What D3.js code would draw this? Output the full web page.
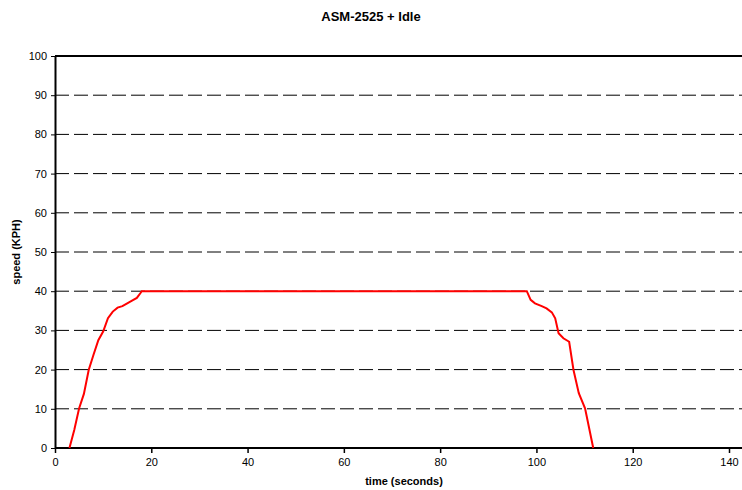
<!DOCTYPE html>
<html>
<head>
<meta charset="utf-8">
<script src="https://cdn.jsdelivr.net/npm/d3@7"></script>
<style>
  body { margin: 0; background: #fff; }
  svg { font-family: "Liberation Sans", Arial, sans-serif; }
</style>
</head>
<body>
<div id="chart"></div>
<script>
const title = 'ASM-2525 + Idle';
const timeValues = [3, 4, 5, 6, 7, 8, 9, 10, 11, 12, 13, 14, 15, 16, 17, 17.8, 18,
  98, 98.8, 99.7, 101.1, 102.1, 103.2, 103.9, 104.6, 105.6, 106.8, 107.7, 108.8, 110.1, 111.8];
const speedValues = [0, 4.6, 10.1, 13.8, 19.9, 23.8, 27.5, 29.7, 33.1, 34.8, 35.8, 36.2, 36.9, 37.6, 38.3, 39.6, 40,
  40, 37.8, 36.9, 36.2, 35.6, 34.6, 33.1, 29.3, 28, 27.1, 19.9, 14, 10.1, 0];
const xTicks = [0, 20, 40, 60, 80, 100, 120, 140];
const yTicks = [0, 10, 20, 30, 40, 50, 60, 70, 80, 90, 100];

const data = timeValues.map((t, i) => ({ t, v: speedValues[i] }));

const W = 742, H = 490;
const margin = { top: 56, right: 0, bottom: 42, left: 55 };

const svg = d3.select('#chart').append('svg')
  .attr('width', W)
  .attr('height', H);

const x = d3.scaleLinear().domain([0, 140]).range([margin.left, 729]);
const y = d3.scaleLinear().domain([0, 100]).range([H - margin.bottom, margin.top]);

// grid
svg.append('g')
  .selectAll('line')
  .data(yTicks.filter(d => d > 0))
  .join('line')
  .attr('x1', margin.left)
  .attr('x2', W)
  .attr('y1', d => y(d))
  .attr('y2', d => y(d))
  .attr('stroke', '#000')
  .attr('stroke-width', d => d === 100 ? 2 : 1)
  .attr('stroke-dasharray', d => d === 100 ? null : '14,5');

// y axis
const yAxis = svg.append('g')
  .attr('transform', `translate(${margin.left},0)`)
  .call(d3.axisLeft(y).tickValues(yTicks).tickSize(4).tickSizeOuter(0).tickPadding(4));
yAxis.select('.domain').attr('stroke-width', 2);
yAxis.selectAll('.tick line').attr('stroke-width', 1);
yAxis.selectAll('text').attr('font-size', 11).attr('fill', '#000')
  .attr('font-family', '"Liberation Sans", Arial, sans-serif');

// x axis
const xAxis = svg.append('g')
  .attr('transform', `translate(0,${y(0)})`)
  .call(d3.axisBottom(x).tickValues(xTicks).tickSize(5).tickSizeOuter(0).tickPadding(5));
xAxis.select('.domain').attr('stroke-width', 2).attr('d', `M${margin.left},0H${W}`);
xAxis.selectAll('.tick line').attr('stroke-width', 1.5);
xAxis.selectAll('text').attr('font-size', 11).attr('fill', '#000')
  .attr('font-family', '"Liberation Sans", Arial, sans-serif');

// line
svg.append('path')
  .datum(data)
  .attr('fill', 'none')
  .attr('stroke', '#ff0000')
  .attr('stroke-width', 2)
  .attr('d', d3.line().x(d => x(d.t)).y(d => y(d.v)));

// texts
svg.append('text')
  .attr('x', 371).attr('y', 21)
  .attr('text-anchor', 'middle')
  .attr('font-size', 13).attr('font-weight', 'bold')
  .text(title);

svg.append('text')
  .attr('x', 404).attr('y', 485)
  .attr('text-anchor', 'middle')
  .attr('font-size', 11).attr('font-weight', 'bold')
  .text('time (seconds)');

svg.append('text')
  .attr('transform', `translate(20,${(y(0) + y(100)) / 2}) rotate(-90)`)
  .attr('text-anchor', 'middle')
  .attr('font-size', 11).attr('font-weight', 'bold')
  .text('speed (KPH)');
</script>
</body>
</html>
